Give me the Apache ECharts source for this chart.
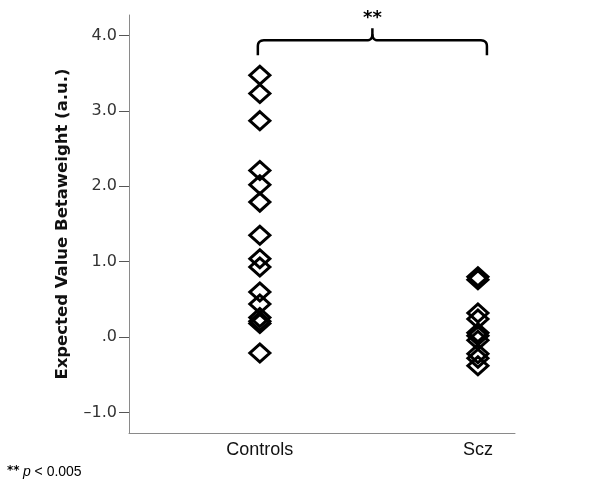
<!DOCTYPE html>
<html>
<head>
<meta charset="utf-8">
<script src="https://cdn.jsdelivr.net/npm/echarts@6/dist/echarts.min.js"></script>
<style>
html,body{margin:0;padding:0;background:#fff;}
#chart{width:612px;height:489px;}
</style>
</head>
<body>
<div id="chart"></div>
<script>
var categories = ['Controls', 'Scz'];
var controlsValues = [3.47, 3.23, 2.87, 2.21, 2.02, 1.79, 1.35, 1.04, 0.93, 0.60, 0.44, 0.26, 0.21, 0.18, -0.21];
var sczValues = [0.80, 0.76, 0.32, 0.24, 0.06, 0.02, -0.04, -0.22, -0.28, -0.38];
var yTicks = [-1, 0, 1, 2, 3, 4];
var yAxisTitle = 'Expected Value Betaweight (a.u.)';
var significanceLabel = '**';
var footnote = 'p < 0.005';

var chart = echarts.init(document.getElementById('chart'), null, {renderer: 'canvas'});

function toPoints(vals, xi) {
  return vals.map(function (v) { return [xi, v]; });
}

var symbolStyle = {
  type: 'scatter',
  symbol: 'diamond',
  symbolSize: [20, 18],
  itemStyle: { color: 'rgba(0,0,0,0)', borderColor: '#000', borderWidth: 3, opacity: 1 },
  emphasis: { disabled: true },
  silent: true
};

chart.setOption({
  animation: false,
  backgroundColor: '#fff',
  grid: { left: 129, right: 97, top: 15, bottom: 56, containLabel: false },
  xAxis: {
    type: 'value',
    min: 0.4,
    max: 2.17,
    axisLine: { show: true, onZero: false, lineStyle: { color: '#8a8a8a', width: 1 } },
    axisTick: { show: false },
    splitLine: { show: false },
    axisLabel: {
      customValues: [1, 2],
      formatter: function (v) { return categories[Math.round(v) - 1] || ''; },
      fontFamily: 'Liberation Sans',
      fontSize: 18,
      color: '#111',
      margin: 8
    }
  },
  yAxis: {
    type: 'value',
    min: -1.27,
    max: 4.27,
    name: yAxisTitle,
    nameLocation: 'middle',
    nameGap: 58,
    nameTextStyle: { fontFamily: 'DejaVu Sans', fontWeight: 'bold', fontSize: 16.5, color: '#111' },
    axisLine: { show: true, onZero: false, lineStyle: { color: '#8a8a8a', width: 1 } },
    axisTick: { show: true, customValues: yTicks, length: 10, lineStyle: { color: '#555', width: 1 } },
    splitLine: { show: false },
    axisLabel: {
      customValues: yTicks,
      formatter: function (v) { return v === 0 ? '.0' : (v < 0 ? '\u2013' + Math.abs(v).toFixed(1) : v.toFixed(1)); },
      fontFamily: 'DejaVu Sans',
      fontSize: 16,
      color: '#333',
      margin: 12
    }
  },
  series: [
    Object.assign({}, symbolStyle, { name: categories[0], data: toPoints(controlsValues, 1) }),
    Object.assign({}, symbolStyle, { name: categories[1], data: toPoints(sczValues, 2) })
  ]
});

// significance bracket placed via data coordinates
var pL = chart.convertToPixel({gridIndex: 0}, [1, 4.0]);
var pR = chart.convertToPixel({gridIndex: 0}, [2, 4.0]);
var xL = pL[0] - 2, xR = pR[0] + 9, yB = pL[1] + 5;
var xM = (xL + xR) / 2;
var r = 6;

function quad(p0, p1, p2, n) {
  var out = [];
  for (var i = 1; i <= n; i++) {
    var t = i / n, u = 1 - t;
    out.push([u * u * p0[0] + 2 * u * t * p1[0] + t * t * p2[0],
              u * u * p0[1] + 2 * u * t * p1[1] + t * t * p2[1]]);
  }
  return out;
}

var leftPts = [[xL, yB + 15], [xL, yB + r]]
  .concat(quad([xL, yB + r], [xL, yB], [xL + r, yB], 8))
  .concat([[xM - r, yB]])
  .concat(quad([xM - r, yB], [xM, yB], [xM, yB - r], 8))
  .concat([[xM, yB - 12]]);
var rightPts = [[xR, yB + 15], [xR, yB + r]]
  .concat(quad([xR, yB + r], [xR, yB], [xR - r, yB], 8))
  .concat([[xM + r, yB]])
  .concat(quad([xM + r, yB], [xM, yB], [xM, yB - r], 8));

chart.setOption({
  graphic: [
    {
      type: 'polyline',
      shape: { points: leftPts },
      style: { fill: null, stroke: '#000', lineWidth: 2.5 },
      silent: true
    },
    {
      type: 'polyline',
      shape: { points: rightPts },
      style: { fill: null, stroke: '#000', lineWidth: 2.5 },
      silent: true
    },
    {
      type: 'text',
      x: xM, y: yB - 22,
      style: { text: significanceLabel, fontFamily: 'DejaVu Sans', fontWeight: 'bold', fontSize: 18, fill: '#000', align: 'center', verticalAlign: 'middle' },
      silent: true
    },
    {
      type: 'text',
      x: 7, y: 472,
      style: {
        text: '{s|' + significanceLabel + '} {p|p}{n| < 0.005}',
        rich: {
          s: { fontFamily: 'DejaVu Sans', fontWeight: 'bold', fontSize: 12, fill: '#000', verticalAlign: 'top' },
          p: { fontFamily: 'Liberation Sans', fontStyle: 'italic', fontSize: 14, fill: '#000' },
          n: { fontFamily: 'Liberation Sans', fontSize: 14, fill: '#000' }
        },
        verticalAlign: 'middle'
      },
      silent: true
    }
  ]
});
</script>
</body>
</html>
